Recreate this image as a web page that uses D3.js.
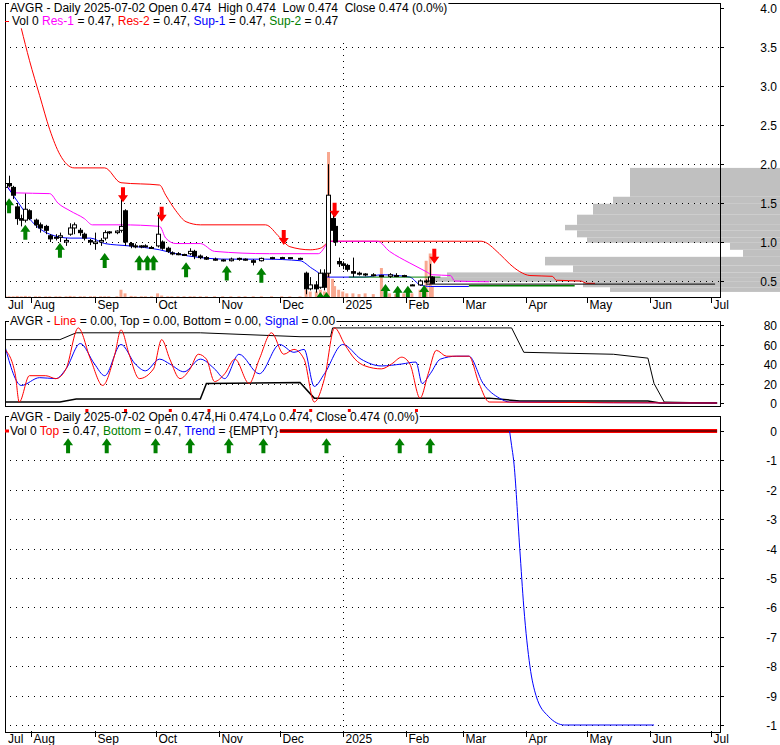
<!DOCTYPE html>
<html><head><meta charset="utf-8">
<script src="https://cdn.jsdelivr.net/npm/d3@7"></script>
<style>body{margin:0;background:#fff}svg{display:block}text{font-family:"Liberation Sans",Arial,sans-serif;font-size:12px}</style>
</head><body><svg id="c" width="780" height="745"></svg>
<script>
// ---------- data ----------
const candleDates=["2024-07-19","2024-07-21","2024-07-23","2024-07-25","2024-07-27","2024-07-29","2024-07-31","2024-08-03","2024-08-05","2024-08-08","2024-08-10","2024-08-13","2024-08-15","2024-08-18","2024-08-20","2024-08-22","2024-08-25","2024-08-27","2024-08-30","2024-09-01","2024-09-04","2024-09-06","2024-09-08","2024-09-12","2024-09-14","2024-09-16","2024-09-19","2024-09-21","2024-09-24","2024-09-26","2024-09-29","2024-10-02","2024-10-04","2024-10-07","2024-10-09","2024-10-12","2024-10-15","2024-10-18","2024-10-20","2024-10-23","2024-10-26","2024-10-30","2024-11-03","2024-11-07","2024-11-11","2024-11-14","2024-11-18","2024-11-22","2024-11-27","2024-12-02","2024-12-06","2024-12-11","2024-12-14","2024-12-16","2024-12-19","2024-12-21","2024-12-23","2024-12-25","2024-12-27","2024-12-28","2024-12-30","2025-01-01","2025-01-03","2025-01-06","2025-01-09","2025-01-12","2025-01-16","2025-01-20","2025-01-24","2025-01-27","2025-01-31","2025-02-04","2025-02-08","2025-02-11","2025-02-13","2025-02-14"];
const opens =[1.70,1.75,1.70,1.45,1.30,1.28,1.40,1.28,1.22,1.20,1.08,1.05,1.06,1.00,1.10,1.18,1.15,1.10,1.02,0.98,1.00,1.05,1.12,1.12,1.15,1.40,0.98,0.95,0.94,0.95,0.93,0.95,1.00,0.92,0.86,0.85,0.84,0.85,0.88,0.82,0.80,0.78,0.77,0.76,0.78,0.78,0.76,0.76,0.79,0.80,0.79,0.79,0.60,0.40,0.45,0.42,0.60,0.60,1.30,1.20,0.75,0.72,0.70,0.62,0.60,0.59,0.58,0.57,0.56,0.57,0.56,0.45,0.45,0.50,0.50,0.55];
const highs =[1.85,1.85,1.72,1.50,1.35,1.62,1.42,1.30,1.25,1.22,1.10,1.10,1.12,1.05,1.24,1.25,1.18,1.12,1.04,1.12,1.05,1.15,1.14,1.15,1.62,1.42,1.00,0.98,0.96,0.97,0.95,1.38,1.02,0.94,0.88,0.87,0.85,0.92,0.90,0.84,0.82,0.80,0.78,0.80,0.80,0.79,0.78,0.80,0.81,0.81,0.80,0.80,0.62,0.55,0.50,0.65,0.65,2.00,1.40,1.25,0.80,0.75,0.72,0.80,0.62,0.60,0.60,0.58,0.60,0.60,0.58,0.46,0.52,0.52,0.72,0.56];
const lows  =[1.65,1.70,1.55,1.22,1.20,1.25,1.28,1.18,1.12,1.10,1.00,1.02,1.00,0.95,1.08,1.10,1.08,1.02,0.96,0.90,0.95,1.02,1.10,1.10,1.12,0.95,0.92,0.92,0.92,0.93,0.91,0.93,0.90,0.86,0.83,0.83,0.82,0.83,0.78,0.78,0.77,0.76,0.75,0.75,0.76,0.76,0.70,0.75,0.78,0.78,0.78,0.77,0.33,0.38,0.35,0.40,0.38,0.55,1.10,0.95,0.68,0.65,0.62,0.55,0.57,0.56,0.56,0.55,0.54,0.55,0.55,0.44,0.44,0.47,0.48,0.46];
const closes=[1.75,1.72,1.60,1.30,1.28,1.42,1.30,1.22,1.18,1.15,1.04,1.06,1.08,1.02,1.18,1.22,1.12,1.05,1.00,1.00,1.02,1.12,1.13,1.14,1.20,1.00,0.95,0.94,0.95,0.94,0.92,1.10,0.92,0.88,0.85,0.84,0.83,0.88,0.82,0.80,0.78,0.77,0.76,0.78,0.79,0.77,0.74,0.79,0.80,0.79,0.80,0.79,0.40,0.45,0.40,0.60,0.42,1.60,1.15,1.00,0.72,0.70,0.65,0.60,0.59,0.58,0.58,0.56,0.58,0.57,0.57,0.45,0.50,0.49,0.55,0.47];
const volumes=[0.3,0.2,0.2,0.3,0.2,0.3,0.2,0.2,0.2,0.2,0.2,0.2,0.2,0.2,0.3,0.2,0.2,0.2,0.2,0.2,0.2,0.2,0.2,0.2,2.0,1.0,0.3,0.2,0.2,0.2,0.2,1.0,0.4,0.2,0.2,0.2,0.2,0.2,0.2,0.2,0.2,0.2,0.2,0.2,0.2,0.2,0.2,0.2,0.2,0.2,0.2,0.2,2.0,1.5,1.5,2.0,1.5,40,5,3,2,1.5,1,1,0.8,1,0.8,8,1,0.8,1,1,2,10,12,3];

const res2Dates=["2024-07-27","2024-07-31","2024-08-05","2024-08-10","2024-08-15","2024-08-22","2024-09-06","2024-09-14","2024-10-03","2024-10-06","2024-10-11","2024-10-16","2024-10-23","2024-11-24","2024-12-01","2024-12-06","2024-12-16","2024-12-21","2024-12-26","2025-03-10","2025-03-19","2025-03-24","2025-03-29","2025-04-03","2025-04-14","2025-04-16","2025-04-28","2025-05-01","2025-05-05"];
const res2Vals =[3.74,3.33,2.88,2.44,2.12,1.95,1.95,1.76,1.73,1.60,1.40,1.26,1.22,1.22,1.06,0.94,0.90,0.92,1.01,1.01,0.85,0.72,0.62,0.57,0.56,0.51,0.50,0.47,0.47];
const res1Dates=["2024-07-19","2024-07-24","2024-08-10","2024-08-14","2024-08-20","2024-08-27","2024-08-31","2024-09-14","2024-10-03","2024-10-06","2024-10-11","2024-10-23","2024-10-30","2024-11-26","2024-12-20","2024-12-26","2025-01-18","2025-01-24","2025-01-29","2025-02-03","2025-02-11","2025-02-14","2025-02-23","2025-02-25","2025-03-14"];
const res1Vals =[1.75,1.63,1.62,1.50,1.40,1.30,1.22,1.22,1.20,1.05,0.98,0.98,0.88,0.85,0.85,1.01,1.01,0.88,0.80,0.73,0.62,0.58,0.57,0.50,0.49];
const sup1Dates=["2024-07-19","2024-07-27","2024-07-31","2024-08-10","2024-08-20","2024-08-30","2024-09-06","2024-09-18","2024-10-03","2024-10-11","2024-10-23","2024-11-06","2024-11-24","2024-12-11","2024-12-17","2024-12-25","2025-01-12","2025-01-20","2025-02-03","2025-02-08","2025-02-13","2025-03-04"];
const sup1Vals =[1.75,1.45,1.30,1.10,1.05,1.05,0.98,0.95,0.90,0.85,0.80,0.78,0.78,0.76,0.66,0.55,0.55,0.58,0.55,0.45,0.43,0.43];
const sup2aDates=["2025-01-04","2025-02-18"], sup2aVals=[0.55,0.55];
const sup2bDates=["2025-03-04","2025-04-25"], sup2bVals=[0.44,0.44];
const closeLineDates=["2025-02-11","2025-07-03"], closeLineVals=[0.46,0.46];

const profLow =[1.58,1.49,1.35,1.22,1.15,1.06,0.99,0.90,0.81,0.70,0.61,0.55,0.49,0.42,0.36];
const profHigh=[1.95,1.58,1.49,1.35,1.22,1.15,1.06,0.99,0.90,0.81,0.70,0.61,0.55,0.49,0.42];
const profVol =[150,167,187,203,215,203,193,50,37,235,207,333,350,197,170];

const upArrowDates=["2024-07-21","2024-07-29","2024-08-15","2024-09-06","2024-09-23","2024-09-27","2024-09-30","2024-10-16","2024-11-05","2024-11-22","2024-12-21","2024-12-24","2025-01-22","2025-01-28","2025-02-02","2025-02-10"];
const upArrowVals =[1.56,1.22,0.99,0.86,0.83,0.83,0.83,0.74,0.70,0.67,0.36,0.36,0.46,0.44,0.44,0.45];
const downArrowDates=["2024-09-15","2024-10-04","2024-12-03","2024-12-28","2025-02-15"];
const downArrowVals =[1.51,1.26,0.96,1.31,0.72];

const oscLineDates=["2024-07-19","2024-07-24","2024-07-26","2024-07-31","2024-08-08","2024-08-13","2024-08-18","2024-08-24","2024-08-30","2024-09-05","2024-09-11","2024-09-14","2024-09-18","2024-09-23","2024-09-30","2024-10-04","2024-10-08","2024-10-13","2024-10-18","2024-10-22","2024-10-26","2024-10-30","2024-11-04","2024-11-09","2024-11-16","2024-11-21","2024-11-27","2024-12-03","2024-12-08","2024-12-13","2024-12-18","2024-12-23","2024-12-28","2025-01-02","2025-01-07","2025-01-12","2025-01-20","2025-01-25","2025-01-30","2025-02-03","2025-02-08","2025-02-12","2025-02-16","2025-02-21","2025-03-04","2025-03-09","2025-03-14","2025-07-04"];
const oscLineVals=[55,30,1,28,28,25,35,77,45,18,50,75,50,25,35,65,45,25,35,50,45,22,30,45,20,45,72,50,55,45,1,25,77,60,45,38,35,40,47,40,5,30,54,48,48,20,1,0];
const oscSigDates=["2024-07-19","2024-07-27","2024-08-05","2024-08-13","2024-08-18","2024-08-25","2024-09-01","2024-09-06","2024-09-14","2024-09-21","2024-09-26","2024-10-03","2024-10-08","2024-10-15","2024-10-23","2024-10-30","2024-11-04","2024-11-11","2024-11-21","2024-12-01","2024-12-08","2024-12-13","2024-12-18","2024-12-23","2025-01-01","2025-01-10","2025-01-20","2025-01-30","2025-02-06","2025-02-09","2025-02-13","2025-02-18","2025-02-26","2025-03-04","2025-03-11","2025-03-19","2025-03-24","2025-07-04"];
const oscSigVals=[58,18,26,25,35,61,40,28,60,40,33,45,40,32,45,35,25,50,30,60,52,55,17,30,60,45,38,40,42,20,30,45,48,48,20,5,1,0];
const oscTopDates=["2024-07-19","2024-08-15","2024-08-23","2024-10-23","2024-12-11","2024-12-26","2024-12-27","2025-03-25","2025-03-31","2025-05-14","2025-05-31","2025-06-03","2025-06-08","2025-07-04"];
const oscTopVals=[65,65,72,72,68,68,77,77,52,50,46,20,1,0];
const oscBotDates=["2024-07-19","2024-08-15","2024-08-23","2024-10-23","2024-10-26","2024-12-11","2024-12-18","2025-03-14","2025-03-29","2025-05-31","2025-06-06","2025-07-04"];
const oscBotVals=[1,1,4,4,20,21,5,5,2,2,0,0];
const oscDotDates=["2024-08-28","2024-09-16","2024-10-08","2024-10-27","2024-12-08","2024-12-16","2025-01-04","2025-02-06"];

const trendDates=["2025-03-24","2025-03-25","2025-03-26","2025-03-29","2025-03-31","2025-04-03","2025-04-06","2025-04-12","2025-04-20","2025-06-03"];
const trendVals=[0,-0.5,-1,-4,-6,-8,-9,-9.7,-10,-10];
const topLineDates=["2024-12-01","2025-07-04"], topLineVals=[0,0];
const p3ArrowDates=["2024-08-19","2024-09-07","2024-10-01","2024-10-18","2024-11-06","2024-11-23","2024-12-24","2025-01-29","2025-02-13"];

const monthTicks=["2024-07-01","2024-08-01","2024-09-01","2024-10-01","2024-11-01","2024-12-01","2025-01-01","2025-02-01","2025-03-01","2025-04-01","2025-05-01","2025-06-01","2025-07-01"];
const monthLabels=["Jul","Aug","Sep","Oct","Nov","Dec","2025","Feb","Mar","Apr","May","Jun","Jul"];
const p1Ticks=[0.5,1.0,1.5,2.0,2.5,3.0,3.5,4.0];
const p2Ticks=[0,20,40,60,80];
const p3Ticks=[0,-1,-2,-3,-4,-5,-6,-7,-8,-9,-10];
const p3Labels=["0","-1","-2","-3","-4","-5","-6","-7","-8","-9","-1"];

// ---------- drawing ----------
const P=d3.timeParse("%Y-%m-%d");
const svg=d3.select("#c");
const L=5,R=720;
const x=d3.scaleTime().domain([P("2024-07-19"),P("2025-07-01")]).range([5,711]);
const y1=d3.scaleLinear().domain([0.5,4.0]).range([281,8]);
const y2=d3.scaleLinear().domain([0,80]).range([403,325]);
const y3=d3.scaleLinear().domain([0,-10]).range([431,725]);
const panels=[{t:3,b:297},{t:321,b:406},{t:416,b:732}];

function clip(id,p){svg.append("clipPath").attr("id",id).append("rect").attr("x",L).attr("y",p.t).attr("width",R-L).attr("height",p.b-p.t);}
clip("c1",panels[0]);clip("c2",panels[1]);clip("c3",panels[2]);

function dotted(g,yy,x0,x1){g.append("line").attr("x1",x0).attr("x2",x1).attr("y1",yy).attr("y2",yy).attr("stroke","#000").attr("stroke-dasharray","1,5");}

const pv=d3.scaleLinear().domain([0,350]).range([0,350]);
svg.append("g").selectAll("rect").data(profVol).join("rect")
 .attr("x",(d)=>780-pv(d)).attr("width",d=>pv(d))
 .attr("y",(d,i)=>y1(profHigh[i])).attr("height",(d,i)=>y1(profLow[i])-y1(profHigh[i]))
 .attr("fill","#c0c0c0");

const g1=svg.append("g");
p1Ticks.slice(0,7).forEach(v=>dotted(g1,Math.round(y1(v))+0.5,L+5,R));
[20,40,60,80].forEach(v=>dotted(g1,Math.round(y2(v))+0.5,L+5,R));
p3Ticks.slice(1).forEach(v=>dotted(g1,Math.round(y3(v))+0.5,L+5,R));
[panels[0],panels[2]].forEach(p=>{const xx=Math.round(x(P("2025-01-01")))+0.5;
 g1.append("line").attr("x1",xx).attr("x2",xx).attr("y1",p.t+40).attr("y2",p.b).attr("stroke","#000").attr("stroke-dasharray","1,5");});

const c1=svg.append("g").attr("clip-path","url(#c1)");
const vy=d3.scaleLinear().domain([0,40]).range([0,145]);
c1.selectAll(".v").data(volumes).join("rect").attr("fill","#f8a890")
 .attr("x",(d,i)=>x(P(candleDates[i]))-1.5).attr("width",3)
 .attr("y",d=>297-vy(d)).attr("height",d=>vy(d));
function line(g,ds,vs,ys,col,w,smooth){g.append("path").datum(ds.map((d,i)=>[P(d),vs[i]]))
 .attr("d",d3.line().curve(smooth?d3.curveMonotoneX:d3.curveLinear).x(d=>x(d[0])).y(d=>ys(d[1]))).attr("fill","none").attr("stroke",col).attr("stroke-width",w||1);}
line(c1,res2Dates,res2Vals,y1,"#ff0000",1,true);
line(c1,res1Dates,res1Vals,y1,"#ff00ff",1,true);
line(c1,sup1Dates,sup1Vals,y1,"#0000ff",1,true);
line(c1,sup2aDates,sup2aVals,y1,"#008000");
line(c1,sup2bDates,sup2bVals,y1,"#008000",1.5);
line(c1,closeLineDates,closeLineVals,y1,"#000");
const cg=c1.append("g");
candleDates.forEach((d,i)=>{const cx=Math.round(x(P(d)))+0.5;
 cg.append("line").attr("x1",cx).attr("x2",cx).attr("y1",y1(highs[i])).attr("y2",y1(lows[i])).attr("stroke","#000");
 const up=closes[i]>=opens[i];const t=y1(Math.max(opens[i],closes[i])),b=y1(Math.min(opens[i],closes[i]));
 cg.append("rect").attr("x",cx-2).attr("width",4).attr("y",t).attr("height",Math.max(1,b-t)).attr("fill",up?"#fff":"#000").attr("stroke","#000");});
function upArrow(g,cx,tip,col){g.append("path").attr("d",`M${cx},${tip} l-5,7 h3 v8 h4 v-8 h3 z`).attr("fill",col);}
function downArrow(g,cx,tip,col){g.append("path").attr("d",`M${cx},${tip} l-5,-7 h3 v-8 h4 v8 h3 z`).attr("fill",col);}
upArrowDates.forEach((d,i)=>upArrow(c1,x(P(d)),y1(upArrowVals[i]),"#008000"));
downArrowDates.forEach((d,i)=>downArrow(c1,x(P(d)),y1(downArrowVals[i]),"#ff0000"));

const c2=svg.append("g").attr("clip-path","url(#c2)");
line(c2,oscTopDates,oscTopVals,y2,"#000");
line(c2,oscBotDates,oscBotVals,y2,"#000",1.5);
line(c2,oscSigDates,oscSigVals,y2,"#0000ff",1,true);
line(c2,oscLineDates,oscLineVals,y2,"#ff0000",1,true);
svg.selectAll(".od").data(oscDotDates).join("rect").attr("fill","#ff0000").attr("x",d=>x(P(d))-1).attr("y",409).attr("width",3).attr("height",3);

const c3=svg.append("g").attr("clip-path","url(#c3)");
line(c3,topLineDates,topLineVals,y3,"#ff0000",4);
line(c3,topLineDates,topLineVals,y3,"#000",1);
line(c3,trendDates,trendVals,y3,"#0000ff",1,true);
p3ArrowDates.forEach(d=>upArrow(c3,x(P(d)),y3(-0.25),"#008000"));

panels.forEach(p=>svg.append("rect").attr("x",L+0.5).attr("y",p.t+0.5).attr("width",R-L).attr("height",p.b-p.t).attr("fill","none").attr("stroke","#000"));

function yax(ticks,labels,ys){ticks.forEach((v,i)=>{const yy=Math.round(ys(v))+0.5;
 svg.append("line").attr("x1",R).attr("x2",R+4).attr("y1",yy).attr("y2",yy).attr("stroke","#000");
 svg.append("text").attr("x",777).attr("y",yy+4).attr("text-anchor","end").text(labels[i]);});}
yax(p1Ticks,p1Ticks.map(d3.format(".1f")),y1);
yax(p2Ticks,p2Ticks.map(String),y2);
yax(p3Ticks,p3Labels,y3);

function xax(yb){monthTicks.forEach((d,i)=>{const xx=Math.round(x(P(d)))+0.5;
 if(xx>L){svg.append("line").attr("x1",xx).attr("x2",xx).attr("y1",yb).attr("y2",yb+6).attr("stroke","#000");}
 svg.append("text").attr("x",Math.max(xx+2,8)).attr("y",yb+12).text(monthLabels[i]);});}
xax(297);xax(731);

function rich(xx,yy,parts){const t=svg.append("text").attr("x",xx).attr("y",yy);
 parts.forEach(p=>t.append("tspan").attr("fill",p[1]).text(p[0]));return t;}
function bg(t){const b=t.node().getBBox();svg.insert("rect",()=>t.node()).attr("x",b.x-1).attr("y",b.y+2).attr("width",b.width+2).attr("height",b.height-3).attr("fill","#fff");}
bg(rich(10,12,[["AVGR - Daily 2025-07-02 Open 0.474  High 0.474  Low 0.474  Close 0.474 (0.0%)","#000"]]).attr("xml:space","preserve"));
bg(rich(12,25,[["Vol 0 ","#000"],["Res-1","#ff00ff"],[" = 0.47, ","#000"],["Res-2","#ff0000"],[" = 0.47, ","#000"],["Sup-1","#0000ff"],[" = 0.47, ","#000"],["Sup-2","#008000"],[" = 0.47","#000"]]));
bg(rich(10,325,[["AVGR - ","#000"],["Line","#ff0000"],[" = 0.00, Top = 0.00, Bottom = 0.00, ","#000"],["Signal","#0000ff"],[" = 0.00","#000"]]));
bg(rich(10,421,[["AVGR - Daily 2025-07-02 Open 0.474,Hi 0.474,Lo 0.474, Close 0.474 (0.0%)","#000"]]));
bg(rich(10,435,[["Vol 0 ","#000"],["Top","#ff0000"],[" = 0.47, ","#000"],["Bottom","#008000"],[" = 0.47, ","#000"],["Trend","#0000ff"],[" = {EMPTY}","#000"]]));
svg.append("line").attr("x1",5).attr("x2",9).attr("y1",21.5).attr("y2",21.5).attr("stroke","#ff0000");
svg.append("line").attr("x1",5).attr("x2",9).attr("y1",431).attr("y2",431).attr("stroke","#ff0000").attr("stroke-width",3);
</script></body></html>
